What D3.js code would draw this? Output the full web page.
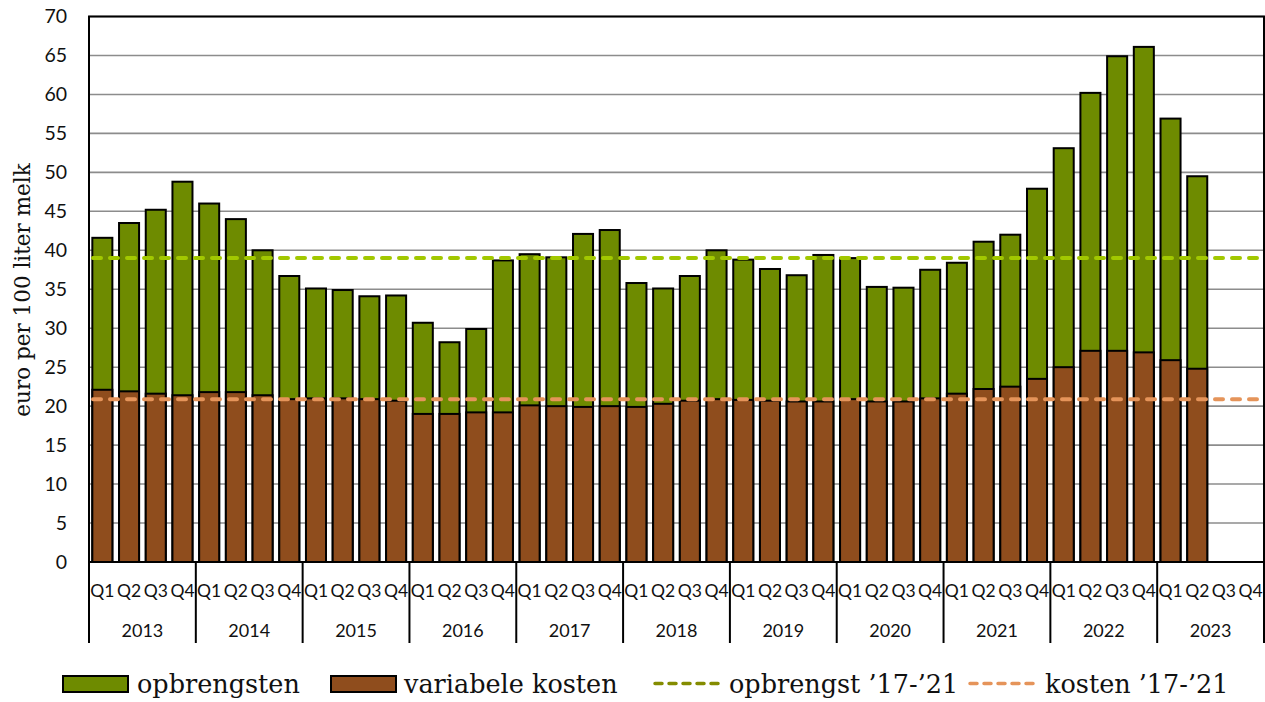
<!DOCTYPE html>
<html>
<head>
<meta charset="utf-8">
<script src="https://cdn.jsdelivr.net/npm/d3@7"></script>
<style>
  body { margin: 0; background: #fff; }
  svg { display: block; }
</style>
</head>
<body>
<svg id="chart" width="1265" height="702"></svg>
<script>
'use strict';

var years = ['2013', '2014', '2015', '2016', '2017', '2018', '2019', '2020', '2021', '2022', '2023'];
var quarters = ['Q1', 'Q2', 'Q3', 'Q4'];

// euro per 100 liter melk, per kwartaal
var opbrengsten = [
  41.6, 43.5, 45.2, 48.8,
  46.0, 44.0, 40.0, 36.7,
  35.1, 34.9, 34.1, 34.2,
  30.7, 28.2, 29.9, 38.7,
  39.5, 39.1, 42.1, 42.6,
  35.8, 35.1, 36.7, 40.0,
  38.8, 37.6, 36.8, 39.4,
  39.0, 35.3, 35.2, 37.5,
  38.4, 41.1, 42.0, 47.9,
  53.1, 60.2, 64.9, 66.1,
  56.9, 49.5, null, null
];
var kosten = [
  22.1, 21.9, 21.6, 21.4,
  21.8, 21.8, 21.4, 20.9,
  21.0, 21.0, 20.9, 20.7,
  19.0, 19.0, 19.2, 19.2,
  20.1, 20.0, 19.9, 20.0,
  19.9, 20.3, 20.7, 20.9,
  20.8, 20.7, 20.6, 20.6,
  20.9, 20.6, 20.6, 21.0,
  21.6, 22.2, 22.5, 23.5,
  25.0, 27.1, 27.1, 26.9,
  25.9, 24.8, null, null
];
var gemOpbrengst = 39.0;   // gemiddelde '17-'21
var gemKosten = 20.9;
var yTicks = d3.range(0, 71, 5);

var colors = {
  green: '#6e8b00',
  brown: '#8f4d1d',
  lineGreen: '#a2c800',
  legendGreen: '#848c00',
  orange: '#e5945a',
  grid: '#8c8c8c'
};

var svg = d3.select('#chart'),
    plotLeft = 89, plotRight = 1264, plotTop = 16.5, plotBottom = 562;

var rows = [];
years.forEach(function (yr) {
  quarters.forEach(function (q) { rows.push({ key: yr + q, year: yr, q: q }); });
});
rows.forEach(function (d, i) { d.opb = opbrengsten[i]; d.kos = kosten[i]; });

var x = d3.scaleBand().domain(rows.map(function (d) { return d.key; }))
  .range([plotLeft, plotRight]).paddingInner(0.25).paddingOuter(0.125);
var y = d3.scaleLinear().domain([0, 70]).range([plotBottom, plotTop]);
var step = x.step();

// gridlines
svg.append('g').selectAll('line').data(yTicks.slice(1)).join('line')
  .attr('x1', plotLeft).attr('x2', plotRight)
  .attr('y1', function (d) { return y(d); }).attr('y2', function (d) { return y(d); })
  .attr('stroke', colors.grid).attr('stroke-width', 1.6);

// y axis
var yAxis = svg.append('g').attr('transform', 'translate(' + plotLeft + ',0)')
  .call(d3.axisLeft(y).tickValues(yTicks).tickSize(0).tickPadding(22));
yAxis.select('.domain').remove();
yAxis.selectAll('text').attr('font-family', 'Lato, sans-serif').attr('font-size', 19.5)
  .attr('fill', '#111');

// bars: opbrengsten, with variabele kosten drawn over them
var valid = rows.filter(function (d) { return d.opb != null; });
svg.append('g').selectAll('rect').data(valid).join('rect')
  .attr('x', function (d) { return x(d.key); })
  .attr('width', x.bandwidth())
  .attr('y', function (d) { return y(d.opb); })
  .attr('height', function (d) { return y(0) - y(d.opb); })
  .attr('fill', colors.green).attr('stroke', '#000').attr('stroke-width', 2);
svg.append('g').selectAll('rect').data(valid).join('rect')
  .attr('x', function (d) { return x(d.key); })
  .attr('width', x.bandwidth())
  .attr('y', function (d) { return y(d.kos); })
  .attr('height', function (d) { return y(0) - y(d.kos); })
  .attr('fill', colors.brown).attr('stroke', '#000').attr('stroke-width', 2);

// reference lines
[[gemOpbrengst, colors.lineGreen], [gemKosten, colors.orange]].forEach(function (r) {
  svg.append('line')
    .attr('x1', plotLeft + 4).attr('x2', plotRight)
    .attr('y1', y(r[0])).attr('y2', y(r[0]))
    .attr('stroke', r[1]).attr('stroke-width', 4)
    .attr('stroke-dasharray', '8,9').attr('stroke-linecap', 'round');
});

// frame
svg.append('rect').attr('x', plotLeft).attr('y', plotTop)
  .attr('width', plotRight - plotLeft).attr('height', plotBottom - plotTop)
  .attr('fill', 'none').attr('stroke', '#000').attr('stroke-width', 2);

// x axis: quarters + years
var xg = svg.append('g');
xg.selectAll('text.q').data(rows).join('text').attr('class', 'q')
  .attr('x', function (d) { return x(d.key) + x.bandwidth() / 2; })
  .attr('y', 597)
  .attr('text-anchor', 'middle')
  .attr('font-family', 'Lato, sans-serif').attr('font-size', 17.5).attr('fill', '#111')
  .text(function (d) { return d.q; });
var yearStart = function (yr) { return x(yr + 'Q1') - step * 0.125; };
xg.selectAll('text.y').data(years).join('text').attr('class', 'y')
  .attr('x', function (d) { return yearStart(d) + step * 2; })
  .attr('y', 637)
  .attr('text-anchor', 'middle')
  .attr('font-family', 'Lato, sans-serif').attr('font-size', 18).attr('fill', '#111')
  .text(function (d) { return d; });
xg.selectAll('line').data(years.concat(['end'])).join('line')
  .attr('x1', function (d) { return d === 'end' ? plotRight : yearStart(d); })
  .attr('x2', function (d) { return d === 'end' ? plotRight : yearStart(d); })
  .attr('y1', plotBottom).attr('y2', 643)
  .attr('stroke', '#000').attr('stroke-width', 2);

// y title
svg.append('text')
  .attr('transform', 'translate(30,290) rotate(-90)')
  .attr('text-anchor', 'middle')
  .attr('font-family', '"DejaVu Serif", serif').attr('font-size', 21.5).attr('fill', '#111')
  .text('euro per 100 liter melk');

// legend
var lg = svg.append('g').attr('font-family', '"DejaVu Serif", serif').attr('font-size', 25.5).attr('fill', '#111');
var legendItems = [
  { type: 'rect', color: colors.green, x: 63, label: 'opbrengsten', tx: 137 },
  { type: 'rect', color: colors.brown, x: 331, label: 'variabele kosten', tx: 404 },
  { type: 'line', color: colors.legendGreen, x: 655, label: 'opbrengst \u201917-\u201921', tx: 729 },
  { type: 'line', color: colors.orange, x: 970, label: 'kosten \u201917-\u201921', tx: 1045 }
];
legendItems.forEach(function (it) {
  if (it.type === 'rect') {
    lg.append('rect').attr('x', it.x).attr('y', 676).attr('width', 65).attr('height', 16)
      .attr('fill', it.color).attr('stroke', '#000').attr('stroke-width', 2);
  } else {
    lg.append('line').attr('x1', it.x).attr('x2', it.x + 66).attr('y1', 683.5).attr('y2', 683.5)
      .attr('stroke', it.color).attr('stroke-width', 3.5)
      .attr('stroke-dasharray', '7,7').attr('stroke-linecap', 'round');
  }
  lg.append('text').attr('x', it.tx).attr('y', 693).text(it.label);
});
</script>
</body>
</html>
